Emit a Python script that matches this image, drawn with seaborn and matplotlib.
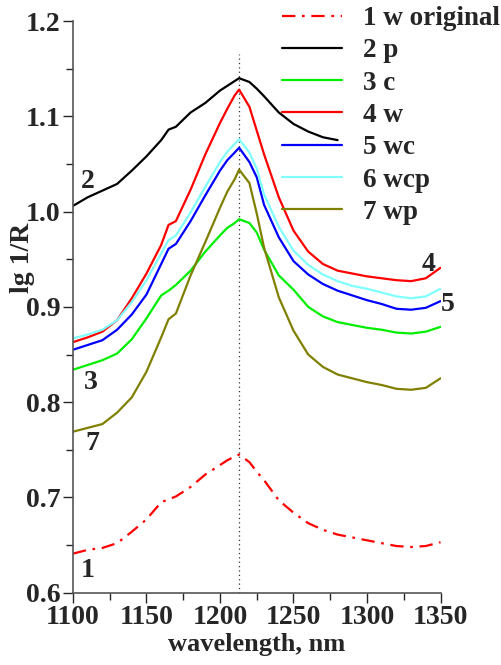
import matplotlib
matplotlib.use("Agg")
import matplotlib.pyplot as plt
import seaborn as sns
from matplotlib.ticker import MultipleLocator

# wavelength grid, nm
wavelength = [1100, 1110, 1120, 1130, 1140, 1150, 1160, 1165, 1170, 1180,
              1190, 1200, 1205, 1210, 1213, 1220, 1225, 1230, 1240, 1250,
              1260, 1270, 1280, 1290, 1300, 1310, 1320, 1330, 1340, 1350]

# lg 1/R spectra
w_original = [0.641, 0.645, 0.647, 0.652, 0.664, 0.677, 0.695, 0.698, 0.701, 0.711,
              0.724, 0.734, 0.739, 0.743, 0.745, 0.737, 0.727, 0.718, 0.697, 0.684,
              0.673, 0.666, 0.661, 0.658, 0.655, 0.652, 0.649, 0.648, 0.649, 0.653]
p = [1.006, 1.015, 1.022, 1.029, 1.043, 1.058, 1.075, 1.086, 1.089, 1.104,
     1.114, 1.127, 1.132, 1.137, 1.140, 1.136, 1.129, 1.121, 1.104, 1.092,
     1.084, 1.078, 1.075]  # curve 2 stops at 1280 nm
c = [0.834, 0.839, 0.844, 0.851, 0.866, 0.888, 0.912, 0.917, 0.923, 0.938,
     0.958, 0.975, 0.983, 0.988, 0.992, 0.988, 0.978, 0.960, 0.933, 0.918,
     0.900, 0.890, 0.884, 0.881, 0.878, 0.876, 0.873, 0.872, 0.874, 0.879]
w = [0.863, 0.868, 0.874, 0.886, 0.909, 0.935, 0.965, 0.986, 0.990, 1.023,
     1.060, 1.093, 1.108, 1.122, 1.128, 1.110, 1.085, 1.060, 1.015, 0.980,
     0.958, 0.945, 0.938, 0.935, 0.932, 0.930, 0.928, 0.927, 0.930, 0.941]
wc = [0.855, 0.860, 0.865, 0.876, 0.892, 0.913, 0.945, 0.961, 0.966, 0.990,
      1.017, 1.043, 1.054, 1.062, 1.067, 1.052, 1.036, 1.007, 0.973, 0.948,
      0.934, 0.924, 0.917, 0.912, 0.907, 0.903, 0.898, 0.897, 0.899, 0.906]
wcp = [0.867, 0.871, 0.876, 0.886, 0.905, 0.928, 0.956, 0.970, 0.975, 0.999,
       1.026, 1.052, 1.063, 1.071, 1.076, 1.062, 1.045, 1.018, 0.984, 0.959,
       0.944, 0.934, 0.927, 0.922, 0.919, 0.915, 0.911, 0.909, 0.911, 0.919]
wp = [0.769, 0.773, 0.777, 0.789, 0.805, 0.832, 0.868, 0.887, 0.893, 0.933,
      0.968, 1.004, 1.021, 1.034, 1.044, 1.030, 0.998, 0.962, 0.910, 0.875,
      0.850, 0.837, 0.829, 0.825, 0.821, 0.818, 0.814, 0.813, 0.815, 0.825]

labels = ["1 w original", "2 p", "3 c", "4 w", "5 wc", "6 wcp", "7 wp"]
peak_nm = 1213

sns.set_style("ticks")
plt.rcParams["font.family"] = ["Liberation Serif", "DejaVu Serif"]
plt.rcParams["font.weight"] = "bold"

fig = plt.figure(figsize=(5.02, 6.65), dpi=100)
ax = fig.add_axes([0.1454, 0.1087, 0.7321, 0.8597])

# peak marker
ax.vlines(peak_nm, 0.6, 1.165, colors="#333333", linestyles=(0, (1, 2.5)), linewidth=0.9)

lw = 1.6
sns.lineplot(x=wavelength, y=w_original, ax=ax, color="#ff0000", linewidth=lw,
             linestyle=(0, (6, 3, 1.2, 3)), label=labels[0])
sns.lineplot(x=wavelength[:len(p)], y=p, ax=ax, color="black", linewidth=lw, label=labels[1])
sns.lineplot(x=wavelength, y=c, ax=ax, color="#00ee00", linewidth=lw, label=labels[2])
sns.lineplot(x=wavelength, y=w, ax=ax, color="#ff0000", linewidth=lw, label=labels[3])
sns.lineplot(x=wavelength, y=wc, ax=ax, color="#0000ff", linewidth=lw, label=labels[4])
sns.lineplot(x=wavelength, y=wcp, ax=ax, color="#80ffff", linewidth=lw, label=labels[5])
sns.lineplot(x=wavelength, y=wp, ax=ax, color="#808000", linewidth=lw, label=labels[6])

ax.set_xlim(1100, 1350)
ax.set_ylim(0.6, 1.2)
ax.xaxis.set_major_locator(MultipleLocator(50))
ax.xaxis.set_minor_locator(MultipleLocator(25))
ax.yaxis.set_major_locator(MultipleLocator(0.1))
ax.yaxis.set_minor_locator(MultipleLocator(0.05))
ax.yaxis.set_major_formatter(plt.FormatStrFormatter("%.1f"))
ax.tick_params(which="major", length=7, width=1, labelsize=20, pad=2)
ax.tick_params(which="minor", length=5, width=1)
for s in ["left", "bottom"]:
    ax.spines[s].set_color("#555555")
    ax.spines[s].set_linewidth(1.2)
sns.despine(ax=ax)

ax.set_xlabel("wavelength, nm", fontsize=19, fontweight="bold", labelpad=2)
ax.set_ylabel("lg 1/R", fontsize=20, fontweight="bold")
ax.yaxis.set_label_coords(-0.104, 0.585)

# curve numbers
for txt, xx, yy in [("1", 1110, 0.623), ("2", 1110, 1.032), ("3", 1112, 0.821),
                    ("7", 1113, 0.757), ("4", 1342, 0.944), ("5", 1355, 0.902)]:
    ax.text(xx, yy, txt, fontsize=20, fontweight="bold", ha="center", va="center",
            clip_on=False)

ax.legend(loc="upper left", bbox_to_anchor=(282 / 502, 1 - 6 / 665),
          bbox_transform=fig.transFigure, frameon=False, fontsize=19.5,
          handlelength=2.2, handletextpad=0.8, labelspacing=0.27,
          borderpad=0, borderaxespad=0)

fig.savefig("out.png", dpi=100)
